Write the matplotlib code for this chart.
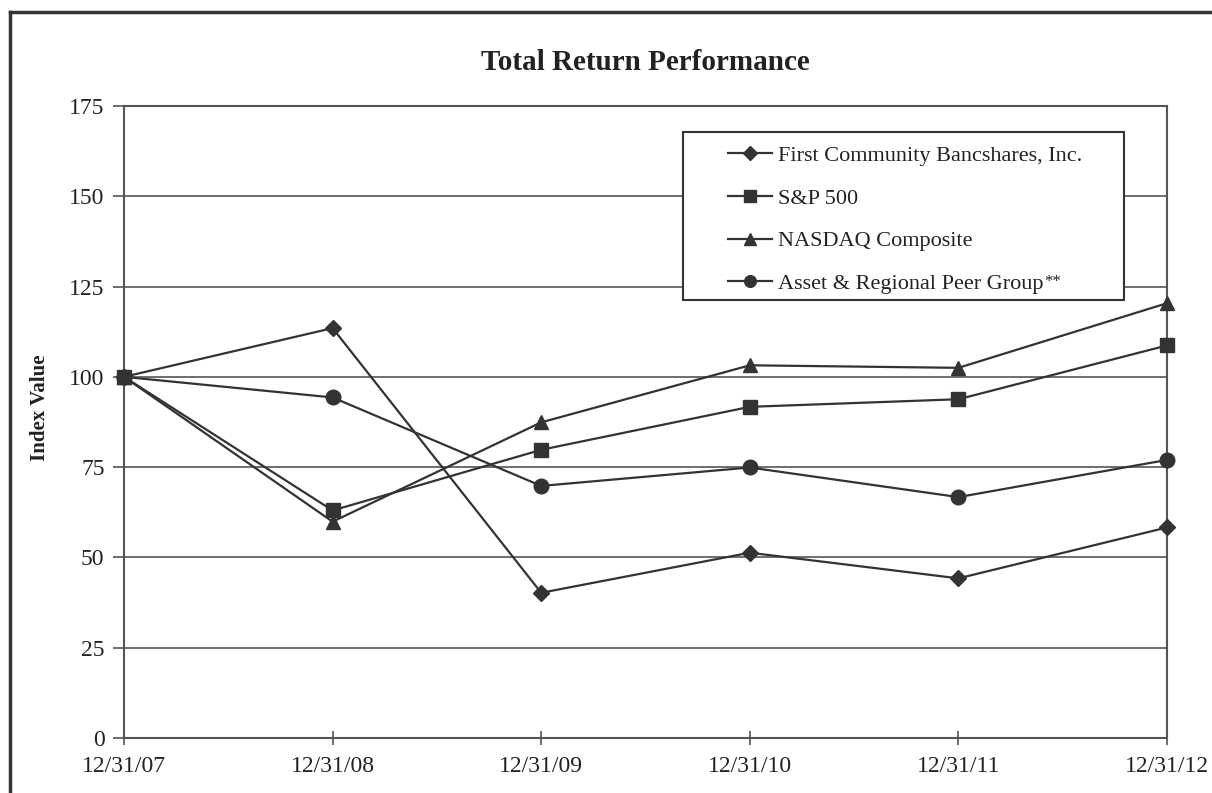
import matplotlib
matplotlib.use("Agg")
import matplotlib.pyplot as plt
from matplotlib.lines import Line2D
from matplotlib.patches import Rectangle

dates = ["12/31/07", "12/31/08", "12/31/09", "12/31/10", "12/31/11", "12/31/12"]
first_community = [100, 113.5, 40.2, 51.3, 44.2, 58.3]
sp500 = [100, 63.0, 79.8, 91.7, 93.8, 108.7]
nasdaq = [100, 59.9, 87.4, 103.2, 102.5, 120.4]
peer_group = [100, 94.3, 69.8, 74.9, 66.7, 77.0]

series = [
    ("First Community Bancshares, Inc.", first_community, "D", 8.5),
    ("S&P 500", sp500, "s", 10.5),
    ("NASDAQ Composite", nasdaq, "^", 10),
    ("Asset & Regional Peer Group", peer_group, "o", 10.5),
]
peer_note = "**"

plt.rcParams['font.family'] = ['Liberation Serif', 'DejaVu Serif']

fig = plt.figure(figsize=(12.12, 7.93), dpi=100)
ax = fig.add_axes([0.1023, 0.0694, 0.8606, 0.7969])

lc = "#333333"
x = list(range(len(dates)))
handles = []
for label, vals, m, ms in series:
    ax.plot(x, vals, color=lc, lw=1.6, marker=m, markersize=ms,
            markerfacecolor=lc, markeredgecolor=lc, zorder=3, clip_on=False)
    handles.append(Line2D([], [], color=lc, lw=1.6, marker=m,
                          markersize=ms * 0.8, markerfacecolor=lc,
                          markeredgecolor=lc, label=label))

ax.set_xlim(0, len(dates) - 1)
ax.set_ylim(0, 175)
ax.set_yticks(range(0, 176, 25))
ax.set_xticks(x)
ax.set_xticklabels(dates)
ax.yaxis.grid(True, color="#555555", lw=1.2)
ax.set_axisbelow(True)
for sp in ax.spines.values():
    sp.set_color("#555555")
    sp.set_linewidth(1.5)
ax.tick_params(axis='y', direction='out', length=8, width=1.2, color="#555555",
               labelsize=17, labelcolor="#222222", pad=6)
ax.tick_params(axis='x', direction='inout', length=10, width=1.2, color="#555555",
               labelsize=17, labelcolor="#222222", pad=8)
ax.set_ylabel("Index Value", fontsize=15, fontweight='bold', color="#222222")
ax.yaxis.set_label_coords(-0.071, 0.522)

ax.set_title("Total Return Performance", fontsize=21, fontweight='bold',
             color="#222222", pad=26)

# legend box
ax.add_patch(Rectangle((0.536, 0.693), 0.423, 0.266, transform=ax.transAxes,
                       facecolor="white", edgecolor="#333333", lw=1.5, zorder=4))
leg = ax.legend(handles=handles, loc='upper left', bbox_to_anchor=(0.579, 0.938),
                fontsize=16, frameon=False, handlelength=2.0,
                handletextpad=0.25, labelspacing=1.0, borderpad=0.0,
                borderaxespad=0)
leg.set_zorder(5)
for t in leg.get_texts():
    t.set_color("#222222")

fig.canvas.draw()
last = leg.get_texts()[-1]
bb = last.get_window_extent(fig.canvas.get_renderer())
fig.text(bb.x1 + 1, bb.y1 + 1, peer_note, transform=None, fontsize=12,
         color="#222222", ha='left', va='top', zorder=6)

fig.add_artist(Line2D([0.0083, 0.0083], [0, 0.985], transform=fig.transFigure,
                      color="#333333", lw=2.5))
fig.add_artist(Line2D([0.0083, 1.0], [0.985, 0.985], transform=fig.transFigure,
                      color="#333333", lw=2.5))

fig.savefig("out.png", dpi=100)
